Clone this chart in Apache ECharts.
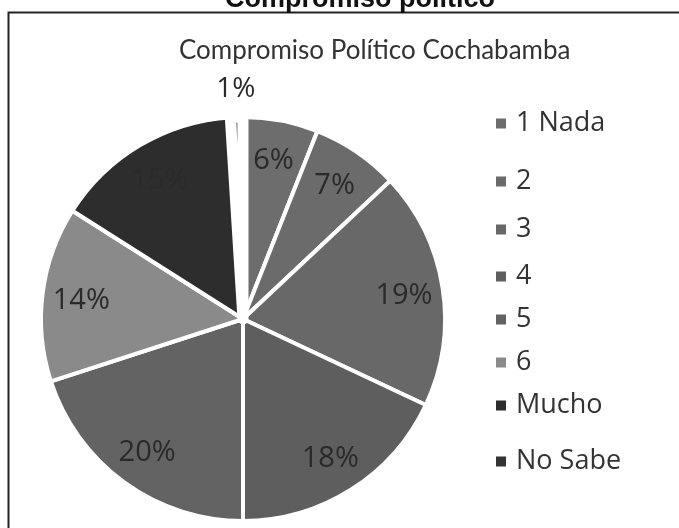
<!DOCTYPE html>
<html>
<head>
<meta charset="utf-8">
<script src="https://cdn.jsdelivr.net/npm/echarts@6/dist/echarts.min.js"></script>
<style>
html,body{margin:0;padding:0;background:#fff;}
#c{width:679px;height:528px;}
</style>
</head>
<body>
<div id="c"></div>
<script>
var categories = ['1 Nada', '2', '3', '4', '5', '6', 'Mucho', 'No Sabe'];
var percentages = [6, 7, 19, 18, 20, 14, 15, 1];
var sliceColors = ['#6d6d6d', '#6b6b6b', '#686868', '#5e5e5e', '#636363', '#8a8a8a', '#2d2d2d', '#3a3a3a'];
var outerTitle = 'Compromiso político';
var chartTitle = 'Compromiso Político Cochabamba';

var legendCenters = [124, 182, 230, 277, 320, 363, 406, 462];
var CX = 243, CY = 319, R = 202;
var labelFont = "'Open Sans', 'Noto Sans', sans-serif";

var chart = echarts.init(document.getElementById('c'), null, {renderer: 'canvas'});

var mainData = categories.map(function (n, i) {
  var d = {name: n, value: percentages[i], itemStyle: {color: sliceColors[i]}};
  if (percentages[i] < 2) { d.itemStyle.borderWidth = 11; d.itemStyle.color = '#7a7a7a'; }
  return d;
});
var innerLabelData = categories.map(function (n, i) {
  return {name: n, value: percentages[i], label: {show: percentages[i] >= 2}};
});
var outerLabelData = categories.map(function (n, i) {
  return {name: n, value: percentages[i], label: {show: percentages[i] < 2}};
});

var legends = categories.map(function (n, i) {
  var lg = {
    data: [n],
    left: 494,
    top: legendCenters[i] - 14,
    orient: 'vertical',
    padding: 0,
    icon: 'rect',
    itemWidth: 12,
    itemHeight: 12,
    selectedMode: false,
    textStyle: {fontFamily: labelFont, fontSize: 27, color: '#333', padding: [0, 0, 0, 4]}
  };
  if (percentages[i] < 2) lg.itemStyle = {color: '#333'};
  return lg;
});

chart.setOption({
  animation: false,
  backgroundColor: '#fff',
  title: [
    {text: outerTitle, left: 220, top: -19,
     textStyle: {fontFamily: "'Liberation Sans', Arial, sans-serif", fontWeight: 'bold', fontSize: 27, color: '#111'}},
    {text: chartTitle, left: 174, top: 33,
     textStyle: {fontFamily: "Lato, 'Open Sans', sans-serif", fontWeight: 'normal', fontSize: 26, color: '#333'}}
  ],
  graphic: [{
    type: 'rect', z: -10, silent: true,
    shape: {x: 8.5, y: 12.5, width: 720, height: 600},
    style: {fill: null, stroke: '#222', lineWidth: 2}
  }],
  legend: legends,
  series: [
    {
      type: 'pie', center: [CX, CY], radius: [0, R], startAngle: 90, clockwise: true,
      silent: true, avoidLabelOverlap: false,
      itemStyle: {borderColor: '#fff', borderWidth: 4},
      label: {show: false}, labelLine: {show: false},
      data: mainData
    },
    {
      type: 'pie', center: [CX, CY + 2], radius: [118, R], startAngle: 90, clockwise: true,
      silent: true, avoidLabelOverlap: false,
      itemStyle: {color: 'rgba(0,0,0,0)', borderWidth: 0},
      label: {position: 'inside', formatter: '{c}%', fontFamily: labelFont, fontSize: 29, color: '#2a2a2a'},
      labelLine: {show: false},
      data: innerLabelData
    },
    {
      type: 'pie', center: [CX, CY], radius: [202, 252], startAngle: 90, clockwise: true,
      silent: true, avoidLabelOverlap: false,
      itemStyle: {color: 'rgba(0,0,0,0)', borderWidth: 0},
      label: {position: 'inside', formatter: '{c}%', fontFamily: labelFont, fontSize: 28, color: '#2a2a2a'},
      labelLine: {show: false},
      data: outerLabelData
    }
  ]
});
</script>
</body>
</html>
